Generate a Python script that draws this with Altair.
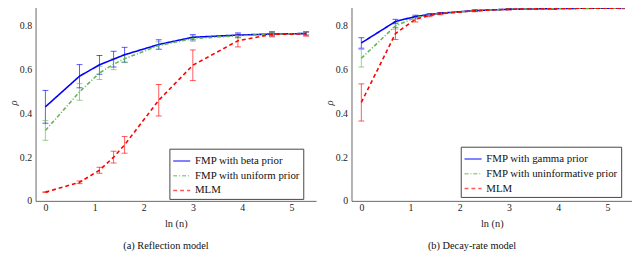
import altair as alt
import pandas as pd

# ---- data ----
ln_n = [0.0, 0.693, 1.099, 1.386, 1.609, 2.303, 2.996, 3.912, 4.605, 5.298]

# (a) Reflection model
refl_names = ["FMP with beta prior", "FMP with uniform prior", "MLM"]
beta_mean = [0.430, 0.570, 0.622, 0.648, 0.668, 0.715, 0.748, 0.758, 0.763, 0.765]
beta_err = [0.075, 0.053, 0.043, 0.036, 0.034, 0.022, 0.012, 0.010, 0.008, 0.007]
unif_mean = [0.322, 0.498, 0.585, 0.625, 0.650, 0.710, 0.742, 0.755, 0.762, 0.765]
unif_err = [0.045, 0.038, 0.030, 0.025, 0.018, 0.018, 0.012, 0.010, 0.008, 0.007]
mlm_a_mean = [0.040, 0.085, 0.140, 0.200, 0.256, 0.460, 0.620, 0.732, 0.762, 0.763]
mlm_a_err = [0.000, 0.006, 0.014, 0.027, 0.038, 0.072, 0.070, 0.028, 0.012, 0.010]

# (b) Decay-rate model
decay_names = ["FMP with gamma prior", "FMP with uninformative prior", "MLM"]
gamma_mean = [0.722, 0.820, 0.843, 0.852, 0.858, 0.870, 0.876, 0.879, 0.881, 0.881]
gamma_err = [0.024, 0.010, 0.006, 0.004, 0.003, 0.003, 0.002, 0.002, 0.002, 0.002]
uninf_mean = [0.652, 0.800, 0.838, 0.850, 0.857, 0.869, 0.876, 0.879, 0.881, 0.881]
uninf_err = [0.040, 0.015, 0.007, 0.004, 0.003, 0.003, 0.002, 0.002, 0.002, 0.002]
mlm_b_mean = [0.450, 0.765, 0.830, 0.848, 0.856, 0.869, 0.876, 0.879, 0.881, 0.881]
mlm_b_err = [0.085, 0.027, 0.012, 0.006, 0.005, 0.004, 0.003, 0.002, 0.002, 0.002]

colors = ["#0000ff", "#62b852", "#ff0000"]
dashes = [[1, 0], [4, 2, 1, 2], [4, 3]]
FONT = "Liberation Serif, Times New Roman, serif"


def panel(names, means, errs, caption, lx, ly, dx):
    rows = []
    for name, m, e in zip(names, means, errs):
        for x, mv, ev in zip(ln_n, m, e):
            rows.append(dict(x=x, series=name, mean=mv, lo=mv - ev, hi=mv + ev))
    df = pd.DataFrame(rows)

    xs = alt.Scale(domain=[-0.2, 5.5], nice=False, zero=False)
    ys = alt.Scale(domain=[0, 0.9], nice=False)
    cscale = alt.Scale(domain=names, range=colors)
    dscale = alt.Scale(domain=names, range=dashes)

    xax = alt.Axis(values=[0, 1, 2, 3, 4, 5], title="ln (n)", grid=False, ticks=False,
                   labelPadding=2, titlePadding=6, labelFont=FONT, labelFontSize=10,
                   titleFont=FONT, titleFontSize=10.5, titleFontWeight="normal",
                   domainColor="#666666", labelColor="#222222", titleColor="#222222")
    yax = alt.Axis(values=[0, 0.2, 0.4, 0.6, 0.8], format="~g", title="ρ", grid=False,
                   ticks=False, labelPadding=4, titlePadding=1, labelFont=FONT,
                   labelFontSize=10, titleFont=FONT, titleFontSize=11,
                   titleFontStyle="italic", titleFontWeight="normal",
                   domainColor="#666666", labelColor="#222222", titleColor="#222222")

    legend = alt.Legend(title=None, orient="none", legendX=lx, legendY=ly,
                        fillColor="white", strokeColor="#444444", padding=3,
                        labelFont=FONT, labelFontSize=11, labelColor="#111111",
                        symbolType="stroke", symbolSize=300, symbolStrokeWidth=1.6,
                        rowPadding=0, labelOffset=4, cornerRadius=0)

    base = alt.Chart(df)
    xenc = alt.X("x:Q", scale=xs, axis=xax)
    cenc = alt.Color("series:N", scale=cscale, legend=legend)

    bars = base.mark_rule(strokeWidth=1, opacity=0.65).encode(
        x=xenc, y=alt.Y("lo:Q", scale=ys, axis=yax), y2="hi:Q", color=cenc)
    cap_lo = base.mark_tick(orient="horizontal", size=6, thickness=1, opacity=0.65).encode(
        x=xenc, y=alt.Y("lo:Q", scale=ys), color=cenc)
    cap_hi = base.mark_tick(orient="horizontal", size=6, thickness=1, opacity=0.65).encode(
        x=xenc, y=alt.Y("hi:Q", scale=ys), color=cenc)
    lines = base.mark_line(strokeWidth=1.6).encode(
        x=xenc, y=alt.Y("mean:Q", scale=ys), color=cenc,
        strokeDash=alt.StrokeDash("series:N", scale=dscale, legend=legend))

    return alt.layer(bars, cap_lo, cap_hi, lines).properties(
        width=285, height=200,
        title=alt.TitleParams(caption, orient="bottom", anchor="middle", font=FONT,
                              fontSize=10.5, fontWeight="normal", color="#111111",
                              offset=12, dx=dx))


left = panel(refl_names, [beta_mean, unif_mean, mlm_a_mean],
             [beta_err, unif_err, mlm_a_err], "(a) Reflection model", 136, 147, -10)
right = panel(decay_names, [gamma_mean, uninf_mean, mlm_b_mean],
              [gamma_err, uninf_err, mlm_b_err], "(b) Decay-rate model", 111, 145, -20)

chart = alt.hconcat(left, right, spacing=36, bounds="flush").resolve_scale(
    color="independent", strokeDash="independent").resolve_legend(
    color="independent", strokeDash="independent").properties(
    padding={"left": -1, "top": -6, "right": 0, "bottom": 0}
).configure_view(stroke=None)

chart.save("out.html", embed_options={"renderer": "svg", "actions": False})
